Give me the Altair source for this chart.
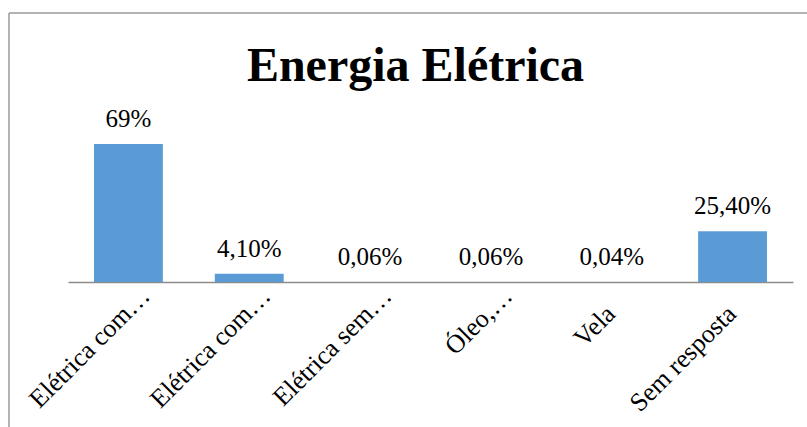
import json

import altair as alt
import pandas as pd

# Categorias (rótulos do eixo), valores em % e rótulos de dados
categorias = ["Elétrica com…", "Elétrica com…", "Elétrica sem…", "Óleo,…", "Vela", "Sem resposta"]
valores = [69.0, 4.10, 0.06, 0.06, 0.04, 25.40]
rotulos = ["69%", "4,10%", "0,06%", "0,06%", "0,04%", "25,40%"]

df = pd.DataFrame({"ordem": list(range(len(categorias))), "valor": valores, "rotulo": rotulos})

FONTE = "Liberation Serif"
AZUL = "#5B9BD5"
CINZA = "#8C8C8C"

W, H = 725, 269

# rótulos abreviados (com reticências) ficam mais afastados ao longo da diagonal
abreviado = "indexof(" + json.dumps(categorias, ensure_ascii=False) + "[datum.value], '…') >= 0"

x_enc = alt.X(
    "ordem:O",
    scale=alt.Scale(paddingInner=0.43, paddingOuter=0.215),
    axis=alt.Axis(
        title=None,
        labelAngle=-45,
        labelAlign="right",
        labelBaseline="alphabetic",
        labelExpr=f"{json.dumps(categorias, ensure_ascii=False)}[datum.value]",
        labelFont=FONTE,
        labelFontSize=26,
        labelColor="#000000",
        labelPadding={"condition": {"test": abreviado, "value": 15}, "value": 33},
        labelOffset={"condition": {"test": abreviado, "value": 23}, "value": 5},
        labelLimit=300,
        labelOverlap=False,
        ticks=False,
        domainColor=CINZA,
        domainWidth=1.5,
        grid=False,
    ),
)
y_enc = alt.Y("valor:Q", scale=alt.Scale(domain=[0, 134.5], nice=False), axis=None)

barras = alt.Chart(df).mark_bar(color=AZUL).encode(x=x_enc, y=y_enc)

textos = alt.Chart(df).mark_text(
    font=FONTE, fontSize=25, color="#000000", baseline="alphabetic", dy=-17
).encode(x=x_enc, y=y_enc, text="rotulo:N")

# Moldura do gráfico (linhas superior e esquerda)
moldura_df = pd.DataFrame({"borda": ["moldura"]})
topo = alt.Chart(moldura_df).mark_rule(color="#9A9A9A", strokeWidth=1.5).encode(
    x=alt.value(-59), x2=alt.value(W + 100), y=alt.value(0)
)
esquerda = alt.Chart(moldura_df).mark_rule(color="#9A9A9A", strokeWidth=1.5).encode(
    x=alt.value(-59), y=alt.value(0), y2=alt.value(H + 200)
)

chart = (
    alt.layer(topo, esquerda, barras, textos)
    .properties(
        width=W,
        height=H,
        title=alt.TitleParams(
            text="Energia Elétrica",
            font=FONTE,
            fontSize=48,
            fontWeight="bold",
            color="#000000",
            anchor="middle",
            baseline="alphabetic",
            offset=-117,
            dx=-15,
        ),
        background="#FFFFFF",
        autosize=alt.AutoSizeParams(type="none"),
        padding={"left": 68, "top": 13, "right": 14, "bottom": 145},
    )
    .configure_view(strokeWidth=0, stroke="transparent")
)

chart.save("out.html", embed_options={"renderer": "svg", "actions": False})
